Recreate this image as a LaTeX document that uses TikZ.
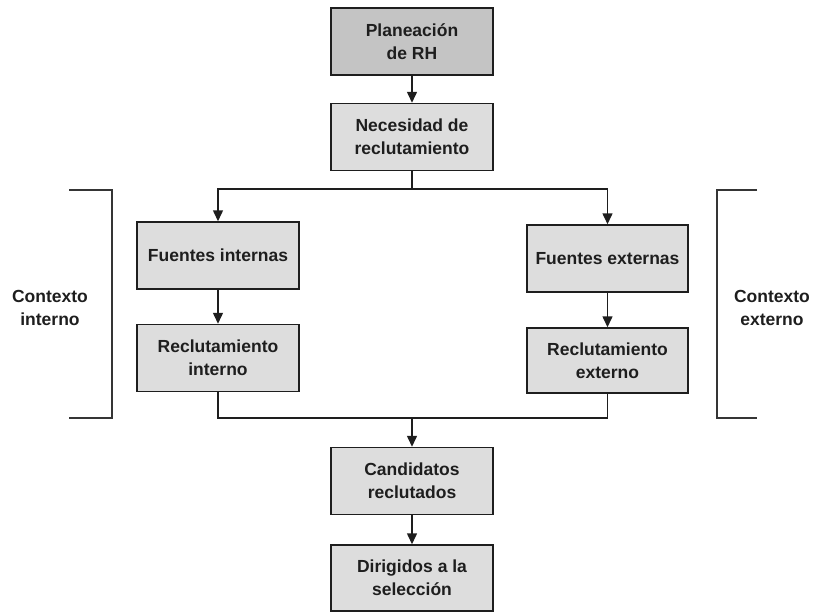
\documentclass[tikz,border=0pt]{standalone}
\usepackage{fontspec}
\setmainfont{Liberation Sans}
\usetikzlibrary{arrows.meta}
\definecolor{boxlight}{HTML}{DDDDDD}
\definecolor{boxdark}{HTML}{C4C4C4}
\definecolor{inkgray}{HTML}{1E1E1E}
\begin{document}
\begin{tikzpicture}[x=1pt,y=-1pt,
  box/.style={draw=inkgray, line width=1.5pt, fill=boxlight,
    minimum width=162pt, minimum height=67pt, align=center, inner sep=0pt,
    font=\fontsize{17.5}{23}\selectfont\bfseries, text=inkgray},
  label/.style={align=center, inner sep=0pt,
    font=\fontsize{17.5}{23}\selectfont\bfseries, text=inkgray},
  link/.style={draw=inkgray, line width=1.5pt},
  arr/.style={link, -{Triangle[length=11pt,width=10pt]}},
  bracket/.style={draw=inkgray!90, line width=1.7pt}]
\useasboundingbox (0,0) rectangle (814,611);

% process boxes
\node[box, fill=boxdark] (plan) at (412,41.5) {Planeación\\de RH};
\node[box] (need) at (412,137) {Necesidad de\\reclutamiento};
\node[box] (fint) at (218,255.5) {Fuentes internas};
\node[box] (rint) at (218,358) {Reclutamiento\\interno};
\node[box, minimum width=161pt] (fext) at (607.5,258.5) {Fuentes externas};
\node[box, minimum width=161pt, minimum height=65pt] (rext) at (607.5,360.5) {Reclutamiento\\externo};
\node[box] (cand) at (412,481) {Candidatos\\reclutados};
\node[box, minimum height=66pt] (sel) at (412,578) {Dirigidos a la\\selección};

% branching and merging points
\coordinate (split) at (412,189);
\coordinate (merge) at (412,418);

% connectors
\draw[arr] (plan) -- (need);
\draw[link] (need.south) -- (split);
\draw[arr] (split) -| (fint.north);
\draw[arr] (split) -| (fext.north);
\draw[arr] (fint) -- (rint);
\draw[arr] (fext) -- (rext);
\draw[link] (rint.south) |- (merge) -| (rext.south);
\draw[arr] (merge) -- (cand.north);
\draw[arr] (cand) -- (sel);

% context brackets
\coordinate (lbt) at (69,190);
\coordinate (lbb) at (69,418);
\coordinate (rbt) at (757,190);
\coordinate (rbb) at (757,418);
\draw[bracket] (lbt) -- (112,190) -- (112,418) -- (lbb);
\draw[bracket] (rbt) -- (717,190) -- (717,418) -- (rbb);

\node[label] (cint) at (50,308) {Contexto\\interno};
\node[label] (cext) at (772,308) {Contexto\\externo};
\end{tikzpicture}
\end{document}
